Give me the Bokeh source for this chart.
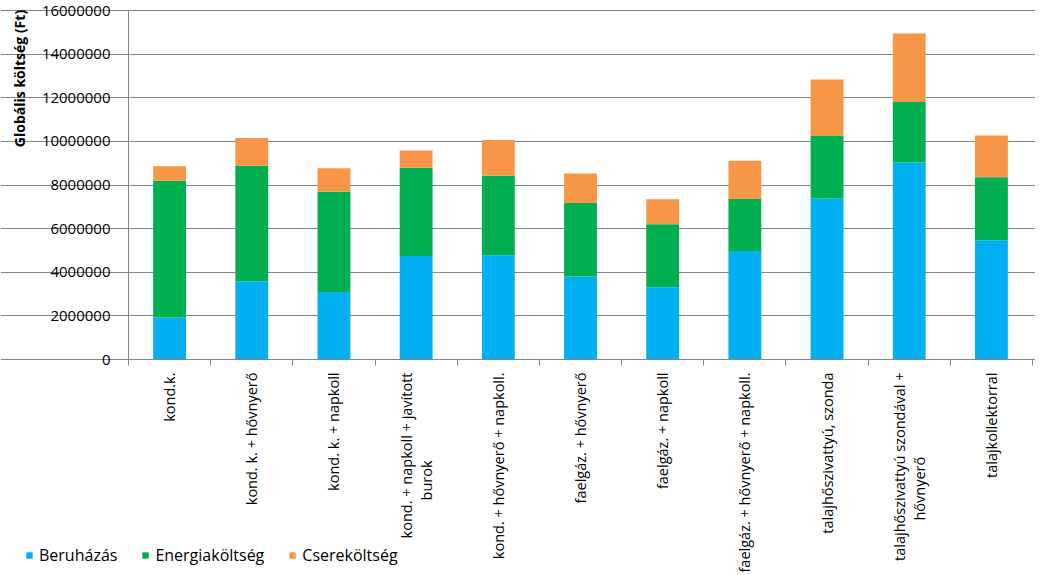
import math
from bokeh.plotting import figure
from bokeh.models import (Range1d, FixedTicker, Legend, LegendItem, Label,
                          NumeralTickFormatter, ColumnDataSource)
from bokeh.core.properties import value
from bokeh.embed import file_html
from bokeh.resources import INLINE

# ---------------- data ----------------
categories = [
    "kond.k.",
    "kond. k. + hővnyerő",
    "kond. k. + napkoll",
    "kond. + napkoll + javított\nburok",
    "kond. + hővnyerő + napkoll.",
    "faelgáz. + hővnyerő",
    "faelgáz. + napkoll",
    "faelgáz. + hővnyerő + napkoll.",
    "talajhőszivattyú, szonda",
    "talajhőszivattyú szondával +\nhővnyerő",
    "talajkollektorral",
]
series_names = ["Beruházás", "Energiaköltség", "Csereköltség"]
beruhazas = [1930000, 3590000, 3090000, 4740000, 4780000, 3800000, 3310000, 4970000, 7380000, 9030000, 5470000]
energiakoltseg = [6260000, 5290000, 4600000, 4050000, 3640000, 3380000, 2890000, 2390000, 2870000, 2780000, 2890000]
cserekoltseg = [670000, 1280000, 1080000, 790000, 1640000, 1350000, 1150000, 1750000, 2590000, 3140000, 1910000]
y_ticks = [0, 2000000, 4000000, 6000000, 8000000, 10000000, 12000000, 14000000, 16000000]
y_title = "Globális költség (Ft)"
colors = ["#00B0F0", "#00B050", "#F79646"]

# ---------------- layout (pixels) ----------------
FONT = "Open Sans"
W, H = 1035, 575
PL, PR, PT, PB = 128, 1032, 10, 359   # plot area edges in pixels
n = len(categories)
y_max = y_ticks[-1]
x_ppu = (PR - PL) / n
y_ppu = (PB - PT) / y_max


def px_x(px):
    return 0.5 + (px - PL) / x_ppu


def px_y(py):
    return (PB - py) / y_ppu


positions = list(range(1, n + 1))
boundaries = [i + 0.5 for i in range(n + 1)]
source = ColumnDataSource(dict(x=positions, b=beruhazas, e=energiakoltseg, c=cserekoltseg))

p = figure(width=W, height=H,
           x_range=Range1d(px_x(0), px_x(W)),
           y_range=Range1d(px_y(H), px_y(0)),
           output_backend="svg", toolbar_location=None, min_border=0)
p.outline_line_color = None
p.background_fill_color = "white"

renderers = p.vbar_stack(["b", "e", "c"], x="x", width=0.4, source=source,
                         color=colors, line_color=None)

# ---------------- x axis (ticks between categories) ----------------
p.xaxis.fixed_location = 0
p.xaxis.bounds = (boundaries[0], boundaries[-1])
p.xaxis.ticker = FixedTicker(ticks=[], minor_ticks=boundaries)
p.xaxis.major_tick_out = 0
p.xaxis.major_tick_in = 0
p.xaxis.minor_tick_out = 6
p.xaxis.minor_tick_in = 0
p.xaxis.minor_tick_line_color = "#868686"
p.xaxis.axis_line_color = "#868686"
p.xgrid.visible = False

# category labels (rotated, second line centred under the first)
LABEL_SIZE = "14.5px"
first_lines = [c.split("\n")[0] for c in categories]
first_dx = [-10 if "\n" in c else 0 for c in categories]
p.text(x=positions, y=[0] * n, text=first_lines, angle=math.pi / 2,
       x_offset=first_dx, y_offset=13,
       text_align="right", text_baseline="middle",
       text_font=value(FONT), text_font_size=LABEL_SIZE, text_color="#000000")
second_x = [pos for pos, c in zip(positions, categories) if "\n" in c]
second_lines = [c.split("\n")[1] for c in categories if "\n" in c]
second_dy = [13 + len(c.split("\n")[0]) * 8.3 / 2 for c in categories if "\n" in c]
p.text(x=second_x, y=[0] * len(second_x), text=second_lines, angle=math.pi / 2,
       x_offset=10, y_offset=second_dy,
       text_align="center", text_baseline="middle",
       text_font=value(FONT), text_font_size=LABEL_SIZE, text_color="#000000")

# ---------------- y axis ----------------
p.yaxis.fixed_location = boundaries[0]
p.yaxis.bounds = (y_ticks[0], y_ticks[-1])
p.yaxis.ticker = FixedTicker(ticks=y_ticks)
p.yaxis.formatter = NumeralTickFormatter(format="0")
p.yaxis.major_tick_out = 5
p.yaxis.major_tick_in = 0
p.yaxis.minor_tick_line_color = None
p.yaxis.major_tick_line_color = "#868686"
p.yaxis.axis_line_color = "#868686"
p.yaxis.major_label_standoff = 13
p.yaxis.major_label_text_font = FONT
p.yaxis.major_label_text_font_size = "15px"
p.yaxis.major_label_text_color = "#000000"
p.ygrid.grid_line_color = "#868686"
p.ygrid.bounds = (boundaries[0], boundaries[-1])

title = Label(x=px_x(19), y=px_y(78), text=y_title, angle=math.pi / 2,
              text_align="center", text_baseline="middle",
              text_font=FONT, text_font_style="bold", text_font_size="14px",
              text_color="#000000")
p.add_layout(title)

legend = Legend(items=[LegendItem(label=nm, renderers=[r]) for nm, r in zip(series_names, renderers)],
                orientation="horizontal", location=(25, H - 566),
                padding=0, margin=0, spacing=24,
                glyph_width=8, glyph_height=8, label_standoff=6, label_height=16,
                label_text_font=FONT, label_text_font_size="16px", label_text_color="#000000",
                border_line_color=None, background_fill_alpha=0)
p.add_layout(legend)

open("out.html", "w").write(file_html(p, INLINE))
